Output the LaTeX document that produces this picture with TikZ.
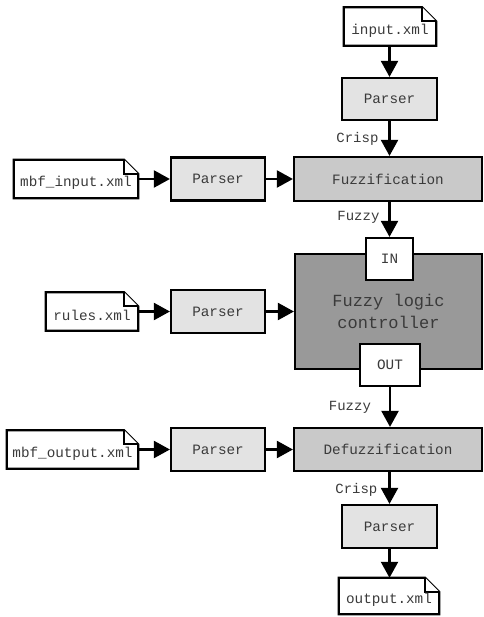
\documentclass[tikz,border=0pt]{standalone}
\usepackage{fontspec}
\setmainfont{Liberation Mono}
\usetikzlibrary{arrows.meta}
\definecolor{parsergray}{HTML}{E3E3E3}
\definecolor{fuzzgray}{HTML}{C9C9C9}
\definecolor{flcgray}{HTML}{999999}
\definecolor{txtgray}{HTML}{3A3A3A}
\newcommand\filedraw[1]{%
  \draw[fileline] (#1.north west) -- ([xshift=-14pt]#1.north east) -- ([yshift=-14pt]#1.north east) |- (#1.south west) -- cycle;
  \draw[fileline] ([xshift=-14pt]#1.north east) |- ([yshift=-14pt]#1.north east);}
\begin{document}
\begin{tikzpicture}[x=1pt,y=-1pt,
  every node/.style={font=\fontsize{14.3}{16}\selectfont, text=txtgray, inner sep=0pt},
  box/.style={draw=black, line width=2.2pt, rectangle},
  parserbox/.style={box, fill=parsergray, minimum width=94pt, minimum height=43pt},
  fuzzbox/.style={box, fill=fuzzgray, minimum width=188pt, minimum height=44pt},
  portbox/.style={box, fill=white, minimum height=42pt},
  filebox/.style={rectangle, minimum height=38pt},
  filetext/.style={yshift=-4pt},
  fileline/.style={draw=black, line width=2.2pt, fill=white, line join=miter},
  flow/.style={draw=black, line width=2.2pt, -{Triangle[width=17pt,length=16pt]}},
  lbl/.style={anchor=east, font=\fontsize{14}{16}\selectfont}
]
\useasboundingbox (0,0) rectangle (483,617);

% file nodes (shapes drawn below)
\node[filebox, minimum width=92pt] (inxml) at (390,26.5) {};
\node[filebox, minimum width=124pt] (mbfin) at (76,179) {};
\node[filebox, minimum width=92pt] (rules) at (92,311.5) {};
\node[filebox, minimum width=131pt] (mbfout) at (72.5,449.5) {};
\node[filebox, minimum width=100pt, minimum height=36pt] (outxml) at (389,596) {};
\filedraw{inxml}\filedraw{mbfin}\filedraw{rules}\filedraw{mbfout}\filedraw{outxml}
\node[filetext] at (inxml.center) {input.xml};
\node[filetext] at (mbfin.center) {mbf\_input.xml};
\node[filetext] at (rules.center) {rules.xml};
\node[filetext] at (mbfout.center) {mbf\_output.xml};
\node[filetext] at (outxml.center) {output.xml};

% parsers
\node[parserbox, minimum width=95pt, minimum height=42pt] (p1) at (389.5,99) {Parser};
\node[parserbox] (p2) at (218,179) {Parser};
\node[parserbox] (p3) at (218,311.5) {Parser};
\node[parserbox] (p4) at (218,449.5) {Parser};
\node[parserbox, minimum width=95pt] (p5) at (389.5,526.5) {Parser};

% fuzzification / defuzzification
\node[fuzzbox] (fuzz) at (388,179) {Fuzzification};
\node[fuzzbox, minimum height=43pt] (defuzz) at (388,449.5) {Defuzzification};

% controller
\node[box, fill=flcgray, minimum width=187pt, minimum height=115pt, align=center,
      font=\fontsize{17}{22}\selectfont] (flc) at (388.5,311.5) {Fuzzy logic\\controller};
\node[portbox, minimum width=47pt] (in) at (389.5,259) {IN};
\node[portbox, minimum width=60pt] (out) at (390,365) {OUT};

% connectors
\draw[flow] (inxml.south -| p1.north) -- (p1.north);
\draw[flow] (p1.south) -- node[lbl, pos=0.5, xshift=-10pt] {Crisp} (p1.south |- fuzz.north);
\draw[flow] (mbfin.east) -- (p2.west);
\draw[flow] (p2.east) -- (fuzz.west);
\draw[flow] (fuzz.south -| in.north) -- node[lbl, pos=0.45, xshift=-9pt] {Fuzzy} (in.north);
\draw[flow] (rules.east) -- (p3.west);
\draw[flow] (p3.east) -- (flc.west);
\draw[flow] (out.south) -- node[lbl, pos=0.5, xshift=-18pt] {Fuzzy} (out.south |- defuzz.north);
\draw[flow] (mbfout.east) -- (p4.west);
\draw[flow] (p4.east) -- (defuzz.west);
\draw[flow] (defuzz.south -| p5.north) -- node[lbl, pos=0.55, xshift=-11pt] {Crisp} (p5.north);
\draw[flow] (p5.south) -- (p5.south |- outxml.north);
\end{tikzpicture}
\end{document}
